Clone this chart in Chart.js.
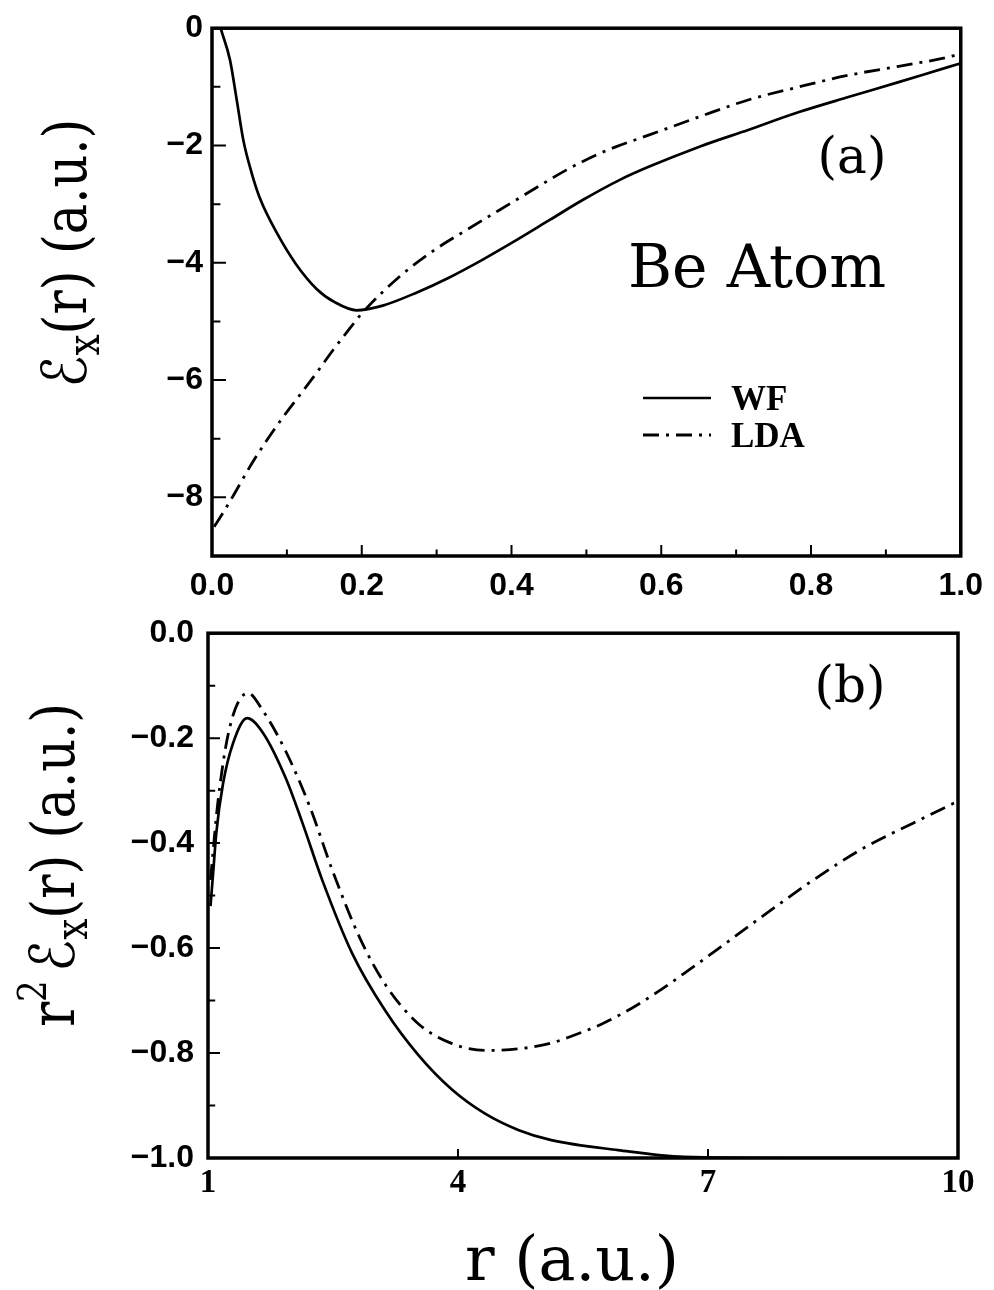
<!DOCTYPE html>
<html>
<head>
<meta charset="utf-8">
<script src="https://cdn.jsdelivr.net/npm/chart.js@4.4.1/dist/chart.umd.min.js"></script>
<style>
  html, body { margin: 0; padding: 0; background: #fff; }
  #wrap { position: relative; width: 994px; height: 1290px; }
  canvas { position: absolute; left: 0; display: block; }
  #chartA { top: 0; }
  #chartB { top: 600px; }
</style>
</head>
<body>
<div id="wrap">
  <canvas id="chartA" width="994" height="600"></canvas>
  <canvas id="chartB" width="994" height="690"></canvas>
</div>
<script>
// ---- panel (a): exchange energy density vs r, 0..1 a.u.
const rWF_a   = [0.012, 0.024, 0.033, 0.042, 0.053, 0.064, 0.087, 0.112, 0.14, 0.165, 0.193, 0.228, 0.273, 0.317, 0.361, 0.407, 0.451, 0.495, 0.544, 0.584, 0.651, 0.717, 0.784, 0.851, 0.917, 0.984, 1.0];
const exWF_a  = [-0.02, -0.54, -1.22, -1.92, -2.47, -2.9, -3.5, -4.02, -4.45, -4.68, -4.81, -4.73, -4.51, -4.25, -3.95, -3.61, -3.27, -2.93, -2.59, -2.36, -2.02, -1.73, -1.43, -1.17, -0.92, -0.66, -0.6];
const rLDA_a  = [0.003, 0.011, 0.028, 0.051, 0.073, 0.095, 0.117, 0.14, 0.161, 0.184, 0.201, 0.251, 0.295, 0.34, 0.384, 0.428, 0.473, 0.517, 0.54, 0.584, 0.651, 0.717, 0.784, 0.851, 0.917, 0.984, 1.0];
const exLDA_a = [-8.5, -8.34, -7.98, -7.47, -7.03, -6.63, -6.26, -5.87, -5.5, -5.12, -4.85, -4.23, -3.8, -3.44, -3.1, -2.76, -2.42, -2.14, -2.02, -1.82, -1.51, -1.22, -1.0, -0.8, -0.65, -0.49, -0.43];

// ---- panel (b): r^2 times the same quantity, r = 1..10 a.u.
const rWF_b   = [1.03, 1.065, 1.10, 1.18, 1.30, 1.47, 1.66, 1.93, 2.13, 2.37, 2.73, 3.13, 3.53, 3.93, 4.32, 4.73, 5.12, 5.92, 6.71, 8.0, 10.0];
const exWF_b  = [-0.52, -0.45, -0.38, -0.287, -0.21, -0.162, -0.19, -0.275, -0.36, -0.47, -0.61, -0.72, -0.805, -0.87, -0.915, -0.947, -0.966, -0.985, -0.998, -1.0, -1.0];
const rLDA_b  = [1.03, 1.12, 1.26, 1.48, 1.66, 1.93, 2.22, 2.5, 2.82, 3.13, 3.53, 3.93, 4.32, 4.73, 5.12, 5.36, 5.72, 6.08, 6.4, 6.76, 7.15, 7.51, 7.91, 8.23, 8.86, 9.46, 10.0];
const exLDA_b = [-0.47, -0.32, -0.18, -0.114, -0.148, -0.224, -0.33, -0.455, -0.58, -0.67, -0.745, -0.782, -0.795, -0.792, -0.781, -0.768, -0.745, -0.715, -0.683, -0.643, -0.598, -0.556, -0.51, -0.474, -0.41, -0.362, -0.32];

// tick values
const majorXa = [0, 0.2, 0.4, 0.6, 0.8, 1.0];
const minorXa = [0.1, 0.3, 0.5, 0.7, 0.9];
const majorYa = [0, -2, -4, -6, -8];
const minorYa = [-1, -3, -5, -7];
const majorXb = [1, 4, 7, 10];
const majorYb = [0, -0.2, -0.4, -0.6, -0.8, -1.0];
const minorYb = [-0.1, -0.3, -0.5, -0.7, -0.9];

const seriesNames = ['WF', 'LDA'];

const BLACK = '#000';
const SERIF = '"DejaVu Serif", "DejaVu Sans", serif';
const tickFont = { family: '"Liberation Sans", Arial, sans-serif', size: 32, weight: 'bold' };

function pts(xs, ys) {
  return xs.map((x, i) => ({ x: x, y: ys[i] }));
}

function dataset(label, xs, ys, dash) {
  return {
    label: label,
    data: pts(xs, ys),
    borderColor: BLACK,
    borderWidth: dash ? 2.8 : 2.7,
    borderDash: dash || [],
    pointRadius: 0,
    fill: false,
    cubicInterpolationMode: 'monotone'
  };
}

const LDA_DASH = [16, 7, 3, 7];

// draws a run of text pieces (for sub/superscripts), optionally rotated
function drawRich(ctx, parts, x, y, rot, sx) {
  ctx.save();
  ctx.translate(x, y);
  if (rot) ctx.rotate(rot);
  ctx.scale(sx || 1, 1);
  ctx.fillStyle = BLACK;
  ctx.textAlign = 'left';
  ctx.textBaseline = 'alphabetic';
  let total = 0;
  parts.forEach(p => {
    ctx.font = p.font;
    p.w = ctx.measureText(p.text).width + (p.gap || 0);
    total += p.w;
  });
  let cx = -total / 2;
  parts.forEach(p => {
    ctx.font = p.font;
    ctx.fillText(p.text, cx, p.dy || 0);
    cx += p.w;
  });
  ctx.restore();
}

function frameAndTicks(chart, ticks) {
  const ctx = chart.ctx;
  const a = chart.chartArea;
  const sx = chart.scales.x, sy = chart.scales.y;
  ctx.save();
  ctx.strokeStyle = BLACK;
  ctx.lineWidth = 2;
  ctx.beginPath();
  ticks.majorX.forEach(v => { const p = sx.getPixelForValue(v); ctx.moveTo(p, a.bottom); ctx.lineTo(p, a.bottom - ticks.lenX); });
  (ticks.minorX || []).forEach(v => { const p = sx.getPixelForValue(v); ctx.moveTo(p, a.bottom); ctx.lineTo(p, a.bottom - ticks.lenX * 0.6); });
  ticks.majorY.forEach(v => { const p = sy.getPixelForValue(v); ctx.moveTo(a.left, p); ctx.lineTo(a.left + ticks.lenY, p); });
  (ticks.minorY || []).forEach(v => { const p = sy.getPixelForValue(v); ctx.moveTo(a.left, p); ctx.lineTo(a.left + ticks.lenY * 0.6, p); });
  ctx.stroke();
  ctx.lineWidth = 3.5;
  ctx.strokeRect(a.left, a.top, a.right - a.left, a.bottom - a.top);
  ctx.restore();
}

function baseOptions(o) {
  return {
    responsive: false,
    animation: false,
    devicePixelRatio: 1,
    layout: { padding: o.padding },
    plugins: { legend: { display: false }, tooltip: { enabled: false } },
    scales: {
      x: {
        type: 'linear', min: o.xMin, max: o.xMax,
        grid: { display: false, drawTicks: false },
        border: { display: false },
        afterBuildTicks: s => { s.ticks = o.xTicks.map(v => ({ value: v })); },
        afterFit: s => { s.height = o.xHeight; },
        ticks: { autoSkip: false, maxRotation: 0, padding: o.xPad, color: BLACK, font: o.xFont, callback: o.xFmt }
      },
      y: {
        type: 'linear', min: o.yMin, max: o.yMax,
        grid: { display: false, drawTicks: false },
        border: { display: false },
        afterBuildTicks: s => { s.ticks = o.yTicks.map(v => ({ value: v })); },
        afterFit: s => { s.width = o.yWidth; },
        ticks: { autoSkip: false, padding: o.yPad, color: BLACK, font: tickFont, callback: o.yFmt }
      }
    }
  };
}

const decorA = {
  id: 'decorA',
  afterDraw(chart) {
    const ctx = chart.ctx;
    frameAndTicks(chart, { majorX: majorXa, minorX: minorXa, majorY: majorYa, minorY: minorYa, lenX: 11, lenY: 14 });

    // legend
    const ds = chart.data.datasets;
    const rows = [398, 435];
    ds.forEach((d, i) => {
      ctx.save();
      ctx.strokeStyle = d.borderColor;
      ctx.lineWidth = d.borderWidth;
      ctx.setLineDash(d.borderDash);
      ctx.beginPath();
      ctx.moveTo(643, rows[i]);
      ctx.lineTo(711, rows[i]);
      ctx.stroke();
      ctx.setLineDash([]);
      ctx.fillStyle = BLACK;
      ctx.font = 'bold 35px "Liberation Serif", serif';
      ctx.textBaseline = 'alphabetic';
      ctx.fillText(seriesNames[i], 731, rows[i] + 12);
      ctx.restore();
    });

    ctx.save();
    ctx.fillStyle = BLACK;
    ctx.font = '50px ' + SERIF;
    ctx.textAlign = 'center';
    ctx.fillText('(a)', 852, 173);
    ctx.font = '60px ' + SERIF;
    ctx.textAlign = 'left';
    ctx.fillText('Be Atom', 628, 287);
    ctx.restore();

    // y title: script E sub x (r) (a.u.)
    drawRich(ctx, [
      { text: '\u2130', font: '62px ' + SERIF },
      { text: 'x', font: '44px ' + SERIF, dy: 13 },
      { text: '(r) (a.u.)', font: '60px ' + SERIF }
    ], 86, 253, -Math.PI / 2, 0.85);
  }
};

const OFF_B = 600;
const decorB = {
  id: 'decorB',
  afterDraw(chart) {
    const ctx = chart.ctx;
    frameAndTicks(chart, { majorX: majorXb, majorY: majorYb, minorY: minorYb, lenX: 9, lenY: 12 });

    ctx.save();
    ctx.fillStyle = BLACK;
    ctx.font = '50px ' + SERIF;
    ctx.textAlign = 'center';
    ctx.fillText('(b)', 850, 702 - OFF_B);
    ctx.restore();

    drawRich(ctx, [
      { text: 'r', font: '62px ' + SERIF },
      { text: '2', font: '40px ' + SERIF, dy: -28, gap: 10 },
      { text: '\u2130', font: '62px ' + SERIF },
      { text: 'x', font: '44px ' + SERIF, dy: 13 },
      { text: '(r) (a.u.)', font: '60px ' + SERIF }
    ], 74, 865 - OFF_B, -Math.PI / 2, 0.85);

    drawRich(ctx, [
      { text: 'r (a.u.)', font: '62px ' + SERIF }
    ], 572, 1280 - OFF_B, 0, 1);
  }
};

new Chart(document.getElementById('chartA'), {
  type: 'line',
  data: {
    datasets: [
      dataset(seriesNames[0], rWF_a, exWF_a, null),
      dataset(seriesNames[1], rLDA_a, exLDA_a, LDA_DASH)
    ]
  },
  options: baseOptions({
    padding: { top: 28, right: 32, left: 0, bottom: 0 },
    xMin: 0, xMax: 1, xTicks: majorXa, xHeight: 44, xPad: 11, xFont: tickFont,
    xFmt: v => Number(v).toFixed(1),
    yMin: -9, yMax: 0, yTicks: majorYa, yWidth: 212, yPad: 9,
    yFmt: v => (v === 0 ? '0' : '\u2212' + Math.abs(v))
  }),
  plugins: [decorA]
});

new Chart(document.getElementById('chartB'), {
  type: 'line',
  data: {
    datasets: [
      dataset(seriesNames[0], rWF_b, exWF_b, null),
      dataset(seriesNames[1], rLDA_b, exLDA_b, LDA_DASH)
    ]
  },
  options: baseOptions({
    padding: { top: 32, right: 36, left: 0, bottom: 0 },
    xMin: 1, xMax: 10, xTicks: majorXb, xHeight: 132, xPad: 6,
    xFont: { family: '"Liberation Serif", serif', size: 33, weight: 'bold' },
    xFmt: v => String(v),
    yMin: -1, yMax: 0, yTicks: majorYb, yWidth: 208, yPad: 14,
    yFmt: v => (Math.abs(v) < 1e-9 ? '0.0' : '\u2212' + Math.abs(v).toFixed(1))
  }),
  plugins: [decorB]
});
</script>
</body>
</html>
